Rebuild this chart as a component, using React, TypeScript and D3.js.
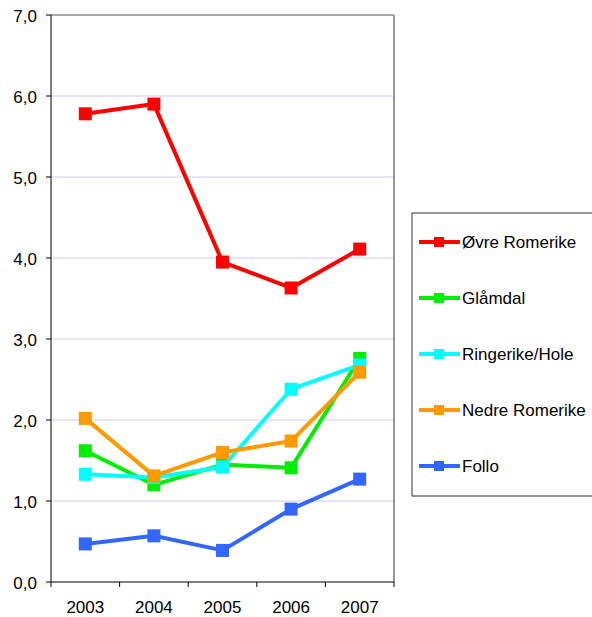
import React from "react";
import * as d3 from "d3";

const years = ["2003", "2004", "2005", "2006", "2007"];
const seriesNames = ["Øvre Romerike", "Glåmdal", "Ringerike/Hole", "Nedre Romerike", "Follo"];
const ovreRomerike = [5.78, 5.9, 3.95, 3.63, 4.11];
const glamdal = [1.62, 1.2, 1.45, 1.41, 2.76];
const ringerike = [1.33, 1.29, 1.42, 2.38, 2.68];
const nedreRomerike = [2.02, 1.31, 1.6, 1.74, 2.59];
const follo = [0.47, 0.57, 0.39, 0.9, 1.27];
const yTicks = [0, 1, 2, 3, 4, 5, 6, 7];
const colors = ["#ff0000", "#00ee00", "#00ffff", "#ff9900", "#3366ff"];

const allSeries = [ovreRomerike, glamdal, ringerike, nedreRomerike, follo];

export default function App() {
  const width = 592;
  const height = 617;
  const margin = { left: 51, right: 394, top: 15, bottom: 582 };

  const x = d3.scaleBand().domain(years).range([margin.left, margin.right]);
  const y = d3.scaleLinear().domain([0, 7]).range([margin.bottom, margin.top]);
  const line = d3
    .line<number>()
    .x((_, i) => (x(years[i]) as number) + x.bandwidth() / 2)
    .y((d) => y(d));

  const fmt = (v: number) => v.toFixed(1).replace(".", ",");
  const font = "'Liberation Sans', Arial, sans-serif";

  return (
    <svg
      width={width}
      height={height}
      style={{ position: "absolute", left: 0, top: 0, background: "#fff" }}
      fontFamily={font}
    >
      {yTicks.slice(1, -1).map((t) => (
        <line key={t} x1={margin.left} x2={margin.right} y1={y(t)} y2={y(t)} stroke="#ccccff" strokeWidth={1} />
      ))}
      <line x1={margin.left} x2={margin.right} y1={y(7)} y2={y(7)} stroke="#555" strokeWidth={1} />
      <line x1={margin.right} x2={margin.right} y1={y(7)} y2={y(0)} stroke="#999" strokeWidth={2} />
      <line x1={margin.left} x2={margin.left} y1={y(7)} y2={y(0)} stroke="#000" strokeWidth={1} />
      <line x1={margin.left} x2={margin.right} y1={y(0)} y2={y(0)} stroke="#000" strokeWidth={1} />
      {yTicks.map((t) => (
        <g key={t}>
          <line x1={margin.left - 5} x2={margin.left} y1={y(t)} y2={y(t)} stroke="#000" />
          <text x={37} y={y(t) + 6.5} textAnchor="end" fontSize={17} fill="#000">
            {fmt(t)}
          </text>
        </g>
      ))}
      {years.map((yr) => (
        <g key={yr}>
          <line x1={x(yr)} x2={x(yr)} y1={y(0)} y2={y(0) + 5} stroke="#000" />
          <text x={(x(yr) as number) + x.bandwidth() / 2} y={613} textAnchor="middle" fontSize={17} fill="#000">
            {yr}
          </text>
        </g>
      ))}
      <line x1={margin.right} x2={margin.right} y1={y(0)} y2={y(0) + 5} stroke="#000" />
      {allSeries.map((s, k) => (
        <g key={k}>
          <path d={line(s) as string} fill="none" stroke={colors[k]} strokeWidth={4} strokeLinejoin="round" />
          {s.map((v, i) => (
            <rect
              key={i}
              x={(x(years[i]) as number) + x.bandwidth() / 2 - 6.5}
              y={y(v) - 6.5}
              width={13}
              height={13}
              fill={colors[k]}
            />
          ))}
        </g>
      ))}
      <rect x={412} y={213} width={190} height={283} fill="#fff" stroke="#333" strokeWidth={1} />
      {seriesNames.map((name, k) => {
        const cy = 242 + k * 56;
        return (
          <g key={name}>
            <line x1={419} x2={460} y1={cy} y2={cy} stroke={colors[k]} strokeWidth={4} />
            <rect x={434} y={cy - 5} width={10} height={10} fill={colors[k]} />
            <text x={462} y={cy + 6} fontSize={17} fill="#000">
              {name}
            </text>
          </g>
        );
      })}
    </svg>
  );
}
